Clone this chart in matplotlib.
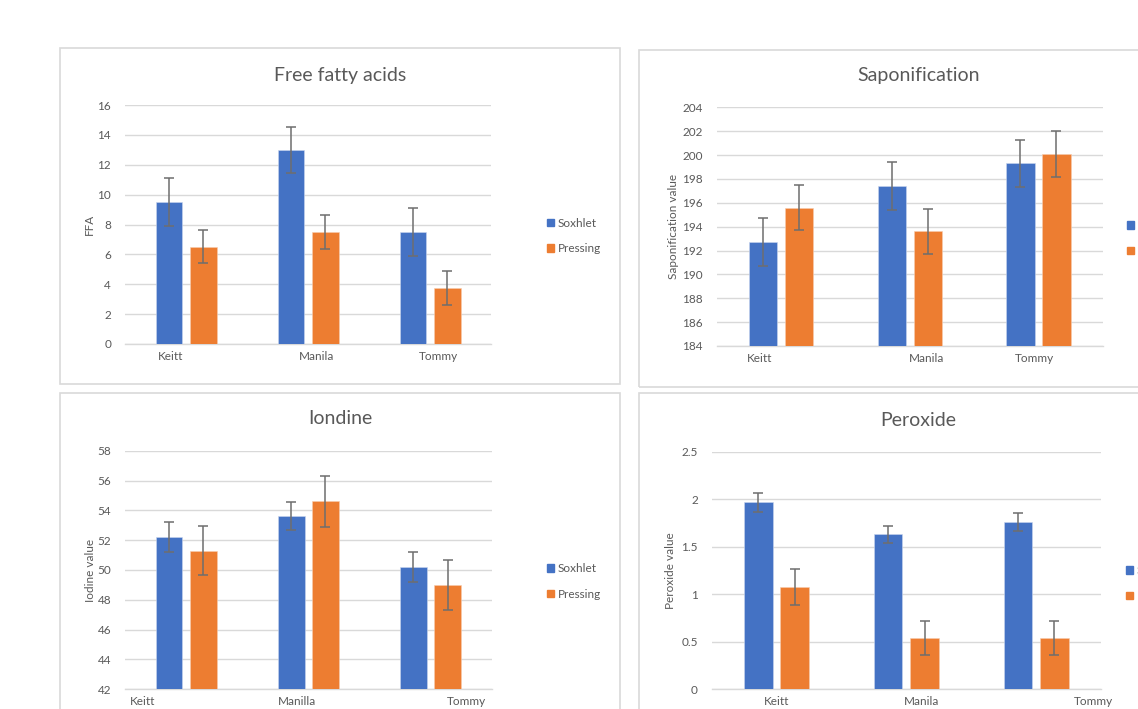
import matplotlib
matplotlib.use('Agg')
import matplotlib.pyplot as plt
from matplotlib.patches import Patch, Rectangle
import numpy as np

plt.rcParams['font.family'] = ['Lato', 'DejaVu Sans']

# data
series = ['Soxhlet', 'Pressing']

ffa_labels = ['Keitt', 'Manila', 'Tommy']
ffa_soxhlet = [9.5, 13.0, 7.5]
ffa_pressing = [6.5, 7.5, 3.75]
ffa_soxhlet_err = [1.6, 1.55, 1.6]
ffa_pressing_err = [1.1, 1.15, 1.15]

sap_labels = ['Keitt', 'Manila', 'Tommy']
sap_soxhlet = [192.7, 197.4, 199.3]
sap_pressing = [195.6, 193.6, 200.1]
sap_soxhlet_err = [2.0, 2.0, 1.95]
sap_pressing_err = [1.9, 1.9, 1.95]

iod_labels = ['Keitt', 'Manilla', 'Tommy']
iod_soxhlet = [52.2, 53.6, 50.2]
iod_pressing = [51.3, 54.6, 49.0]
iod_soxhlet_err = [1.0, 0.95, 1.0]
iod_pressing_err = [1.65, 1.7, 1.65]

per_labels = ['Keitt', 'Manila', 'Tommy']
per_soxhlet = [1.97, 1.63, 1.76]
per_pressing = [1.08, 0.54, 0.54]
per_soxhlet_err = [0.1, 0.09, 0.095]
per_pressing_err = [0.19, 0.18, 0.18]

BLUE = '#4472C4'
ORANGE = '#ED7D31'
GRID = '#d9d9d9'
TEXT = '#595959'

W, H = 1138, 709
fig = plt.figure(figsize=(W / 100, H / 100), dpi=100)


def px_rect(x0, y0, x1, y1):
    # pixel box (top-left origin) -> figure fraction [left, bottom, width, height]
    return [x0 / W, (H - y1) / H, (x1 - x0) / W, (y1 - y0) / H]


# chart frames (right/bottom ones run off the screenshot)
for x0, y0, x1, y1 in [(59.5, 48.3, 620, 384), (639.3, 50, 1160, 387.3),
                       (59.5, 393.3, 620, 730), (639, 393, 1160, 730)]:
    l, b, w, h = px_rect(x0, y0, x1, y1)
    fig.patches.append(Rectangle((l, b), w, h, transform=fig.transFigure,
                                 fill=False, edgecolor=GRID, linewidth=1.2))


def panel(rect, title, ylabel, labels, sox, pre, sox_err, pre_err,
          ylim, ystep, yfmt, label_shift, title_xy, leg_pos, ylabel_pad):
    ax = fig.add_axes(px_rect(*rect))
    x = np.arange(len(labels))
    bw = 0.22
    off = 0.14
    err_kw = dict(ecolor='#6e6e6e', elinewidth=1.1, capsize=3.5, capthick=1.1)
    ax.bar(x - off, sox, bw, color=BLUE, yerr=sox_err, error_kw=err_kw, zorder=3,
           edgecolor='#c9d6ee', linewidth=0.4)
    ax.bar(x + off, pre, bw, color=ORANGE, yerr=pre_err, error_kw=err_kw, zorder=3,
           edgecolor='#f7cdb0', linewidth=0.4)
    ax.set_xlim(-0.5, len(labels) - 0.5)
    ax.set_ylim(*ylim)
    ax.set_yticks(np.arange(ylim[0], ylim[1] + ystep / 2, ystep))
    ax.yaxis.set_major_formatter(plt.FuncFormatter(lambda v, p: yfmt(v)))
    ax.grid(axis='y', color=GRID, linewidth=1, zorder=0)
    for s in ['top', 'right', 'left']:
        ax.spines[s].set_visible(False)
    ax.spines['bottom'].set_color(GRID)
    ax.spines['bottom'].set_linewidth(1)
    # category labels sit off-centre in the original screenshot
    ax.set_xticks(x + np.array(label_shift))
    ax.set_xticklabels(labels)
    ax.tick_params(axis='both', length=0, colors=TEXT, labelsize=8.5)
    ax.tick_params(axis='x', pad=5)
    ax.tick_params(axis='y', pad=10)
    ax.set_ylabel(ylabel, color=TEXT, fontsize=8.5, labelpad=ylabel_pad)
    ax.set_facecolor('none')
    fig.text(title_xy[0] / W, (H - title_xy[1]) / H, title, ha='center',
             va='center', color=TEXT, fontsize=14)
    handles = [Patch(color=BLUE, label=series[0]), Patch(color=ORANGE, label=series[1])]
    fig.legend(handles=handles, loc='center left',
               bbox_to_anchor=(leg_pos[0] / W, (H - leg_pos[1]) / H),
               frameon=False, fontsize=8.5, handlelength=0.6, handleheight=0.6,
               handletextpad=0.35, labelspacing=1.25, borderpad=0,
               borderaxespad=0, labelcolor=TEXT)
    return ax


panel((125, 105, 491, 344), 'Free fatty acids', 'FFA',
      ffa_labels, ffa_soxhlet, ffa_pressing, ffa_soxhlet_err, ffa_pressing_err,
      (0, 16), 2, lambda v: f'{v:.0f}', [-0.123, 0.074, 0.066],
      (340, 75), (546.5, 236), 1.5)

panel((716.7, 107.3, 1102.7, 346), 'Saponification', 'Saponification value',
      sap_labels, sap_soxhlet, sap_pressing, sap_soxhlet_err, sap_pressing_err,
      (184, 204), 2, lambda v: f'{v:.0f}', [-0.164, 0.134, -0.027],
      (919, 76), (1126.5, 238.5), 2.5)

panel((125, 450.7, 491.7, 689.3), 'Iondine', 'Iodine value',
      iod_labels, iod_soxhlet, iod_pressing, iod_soxhlet_err, iod_pressing_err,
      (42, 58), 2, lambda v: f'{v:.0f}', [-0.353, -0.092, 0.29],
      (340, 419), (546.5, 581.5), 1.0)

panel((711.7, 451.7, 1101, 689.3), 'Peroxide', 'Peroxide value',
      per_labels, per_soxhlet, per_pressing, per_soxhlet_err, per_pressing_err,
      (0, 2.5), 0.5, lambda v: f'{v:g}', [0.0, 0.12, 0.438],
      (918, 420), (1125.5, 583.5), 3.5)

fig.savefig('out.png', dpi=100, facecolor='white')
